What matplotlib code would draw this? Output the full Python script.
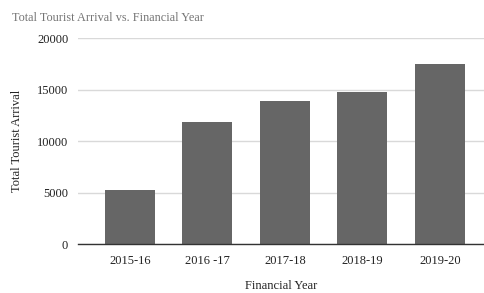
import matplotlib.pyplot as plt

# Data
years = ['2015-16', '2016 -17', '2017-18', '2018-19', '2019-20']
arrivals = [5230, 11800, 13900, 14800, 17450]
yticks = [0, 5000, 10000, 15000, 20000]

plt.rcParams['font.family'] = ['Liberation Serif', 'DejaVu Serif']

fig = plt.figure(figsize=(4.84, 2.93), dpi=100)
ax = fig.add_axes([0.161, 0.1672, 0.839, 0.7031])

x = list(range(len(years)))
ax.bar(x, arrivals, width=0.645, color='#666666', zorder=3)

ax.set_xlim(-0.671, 4.568)
ax.set_ylim(0, 20000)
ax.set_yticks(yticks)
ax.set_xticks(x)
ax.set_xticklabels(years)
ax.grid(axis='y', color='#d9d9d9', linewidth=1, zorder=0)
ax.tick_params(length=0, labelsize=9, colors='#222222', pad=7)
ax.tick_params(axis='x', pad=8)

for s in ['top', 'right', 'left']:
    ax.spines[s].set_visible(False)
ax.spines['bottom'].set_color('#333333')
ax.spines['bottom'].set_linewidth(1)
ax.spines['bottom'].set_zorder(4)

ax.set_xlabel('Financial Year', fontsize=9, color='#222222', labelpad=9)
ax.set_ylabel('Total Tourist Arrival', fontsize=9, color='#222222', labelpad=10)

fig.text(0.025, 0.94, 'Total Tourist Arrival vs. Financial Year', fontsize=8.8,
         color='#757575', va='center', ha='left')

fig.savefig('out.png', dpi=100)
